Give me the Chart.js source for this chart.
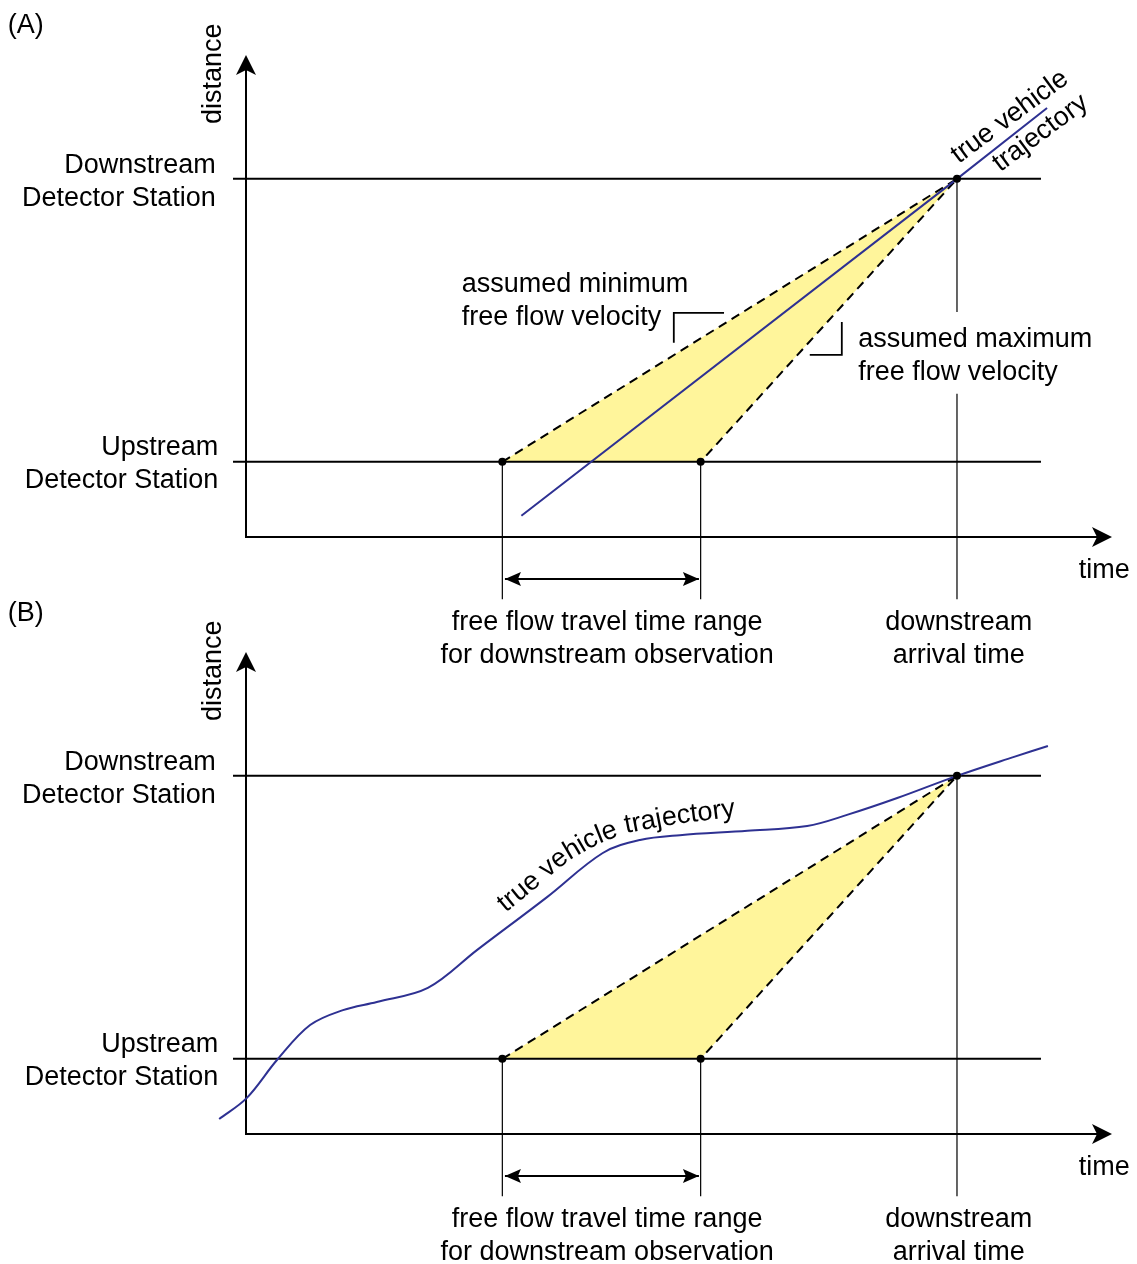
<!DOCTYPE html>
<html lang="en">
<head>
  <meta charset="UTF-8">
  <title>Free flow travel time range</title>
  <style>
    body { margin: 0; background: #fff; }
    #wrap { position: relative; width: 1137px; height: 1264px; }
    canvas { position: absolute; left: 0; }
    #panelA { top: 0; }
    #panelB { top: 597px; }
  </style>
</head>
<body>
  <div id="wrap">
    <canvas id="panelA" width="1137" height="667"></canvas>
    <canvas id="panelB" width="1137" height="667"></canvas>
  </div>

  <script src="https://cdn.jsdelivr.net/npm/chart.js"></script>
  <script>
    // both axes run 0..100 (time, distance), arbitrary units
    const upstreamDist = 15.6;
    const downstreamDist = 74.3;
    const entryTimes = [29.6, 52.5];      // min / max free flow entry time
    const arrivalTime = 82.1;
    const stationSpan = [-1.5, 91.8];
    const guideBottom = -12.9;
    const rangeArrowY = -8.7;
    const rangeArrowX = [29.9, 52.3];

    // (A) straight trajectory
    const trajA_t = [31.8, 82.1, 92.5];
    const trajA_d = [4.4, 74.3, 89.0];

    // (B) real trajectory
    const trajB_t = [-3.1, 0.1, 3.6, 7.4, 11.2, 15.1, 21.0, 26.7, 34.8, 41.2, 45.5, 50.1, 57.9, 64.8, 69.4, 75.2, 82.1, 88.6, 92.6];
    const trajB_d = [3.1, 7.5, 15.4, 22.6, 25.7, 27.4, 30.3, 38.2, 49.2, 58.3, 61.0, 62.0, 62.9, 63.9, 66.2, 69.7, 74.3, 78.2, 80.5];

    // leader brackets (A)
    const minBracket_t = [49.4, 49.4, 55.2];
    const minBracket_d = [40.3, 46.5, 46.5];
    const maxBracket_t = [65.1, 68.8, 68.8];
    const maxBracket_d = [37.8, 37.8, 44.6];
    const arrivalGap = [46.7, 29.7];   // arrival guide line is broken for the label in (A)

    // baseline the curved label follows in (B)
    const labelPathB_t = [30.0, 33.6, 37.0, 40.3, 43.8, 48.4, 56.5];
    const labelPathB_d = [45.9, 51.2, 56.4, 59.9, 62.4, 64.0, 65.9];

    const BLUE = '#2e3192';
    const YELLOW = '#fff59b';
    const FONT = '27px "Liberation Sans", Arial, sans-serif';
    const LINE_H = 33;
    const DY = 2;   // visual centring of text lines

    function line(ts, ds, opts) {
      return Object.assign({
        data: ts.map((t, i) => ({ x: t, y: ds[i] })),
        showLine: true,
        pointRadius: 0,
        borderColor: '#000',
        borderWidth: 2,
        fill: false,
        clip: false,
        order: 3
      }, opts);
    }

    function arrowHead(ctx, x, y, ang, len, half, notch) {
      const dx = Math.cos(ang), dy = Math.sin(ang);
      const px = -dy, py = dx;
      ctx.beginPath();
      ctx.moveTo(x, y);
      ctx.lineTo(x - len * dx + half * px, y - len * dy + half * py);
      ctx.lineTo(x - (len - notch) * dx, y - (len - notch) * dy);
      ctx.lineTo(x - len * dx - half * px, y - len * dy - half * py);
      ctx.closePath();
      ctx.fill();
    }

    function textLines(ctx, lines, x, y) {
      lines.forEach((s, i) => ctx.fillText(s, x, y + DY + i * LINE_H));
    }

    function textAlongPath(ctx, text, path) {
      const lens = [0];
      for (let i = 1; i < path.length; i++) {
        lens.push(lens[i - 1] + Math.hypot(path[i][0] - path[i - 1][0], path[i][1] - path[i - 1][1]));
      }
      function at(s) {
        let i = 1;
        while (i < path.length - 1 && lens[i] < s) i++;
        const f = (s - lens[i - 1]) / (lens[i] - lens[i - 1]);
        return [path[i - 1][0] + f * (path[i][0] - path[i - 1][0]), path[i - 1][1] + f * (path[i][1] - path[i - 1][1])];
      }
      let s = 0;
      for (const ch of text) {
        const w = ctx.measureText(ch).width;
        const p0 = at(s), p1 = at(s + w);
        ctx.save();
        ctx.translate(p0[0], p0[1]);
        ctx.rotate(Math.atan2(p1[1] - p0[1], p1[0] - p0[0]));
        ctx.fillText(ch, 0, 0);
        ctx.restore();
        s += w;
      }
    }

    function diagramPlugin(panel) {
      return {
        id: 'diagram',
        beforeDatasetsDraw(chart) {
          const { ctx, chartArea: a } = chart;
          ctx.save();
          ctx.strokeStyle = '#000';
          ctx.fillStyle = '#000';
          ctx.lineWidth = 2;
          ctx.beginPath();
          ctx.moveTo(a.left, a.top + 12);
          ctx.lineTo(a.left, a.bottom);
          ctx.lineTo(a.right - 12, a.bottom);
          ctx.stroke();
          arrowHead(ctx, a.left, a.top, -Math.PI / 2, 20, 10, 5);
          arrowHead(ctx, a.right, a.bottom, 0, 20, 10, 5);
          ctx.restore();
        },
        afterDatasetsDraw(chart) {
          const { ctx } = chart;
          const X = v => chart.scales.x.getPixelForValue(v);
          const Y = v => chart.scales.y.getPixelForValue(v);
          ctx.save();
          ctx.fillStyle = '#000';
          // double arrow heads
          const ay = Y(rangeArrowY);
          arrowHead(ctx, X(rangeArrowX[0]), ay, Math.PI, 16, 7, 3);
          arrowHead(ctx, X(rangeArrowX[1]), ay, 0, 16, 7, 3);

          ctx.font = FONT;
          ctx.textBaseline = 'middle';

          ctx.textAlign = 'left';
          textLines(ctx, [panel === 'A' ? '(A)' : '(B)'], X(-27.5), panel === 'A' ? Y(106.6) : Y(108.3));

          ctx.textAlign = 'right';
          textLines(ctx, ['Downstream', 'Detector Station'], X(-3.5), Y(77.4));
          textLines(ctx, ['Upstream', 'Detector Station'], X(-3.2), Y(18.9));

          ctx.textAlign = 'center';
          textLines(ctx, ['time'], X(99.1), Y(-6.6));
          textLines(ctx, ['free flow travel time range', 'for downstream observation'], X(41.7), Y(-17.4));
          textLines(ctx, ['downstream', 'arrival time'], X(82.3), Y(-17.4));

          ctx.save();
          ctx.translate(X(-3.7), Y(96.1));
          ctx.rotate(-Math.PI / 2);
          ctx.fillText('distance', 0, 0);
          ctx.restore();

          if (panel === 'A') {
            ctx.textAlign = 'left';
            textLines(ctx, ['assumed minimum', 'free flow velocity'], X(24.9), Y(52.7));
            textLines(ctx, ['assumed maximum', 'free flow velocity'], X(70.7), Y(41.3));
            ctx.textBaseline = 'alphabetic';
            const ang = -36.5 * Math.PI / 180;
            [['true vehicle', 82.3, 77.4], ['trajectory', 87.1, 75.7]].forEach(([s, t, d]) => {
              ctx.save();
              ctx.translate(X(t), Y(d));
              ctx.rotate(ang);
              ctx.fillText(s, 0, 0);
              ctx.restore();
            });
          } else {
            ctx.textAlign = 'left';
            ctx.textBaseline = 'alphabetic';
            const path = labelPathB_t.map((t, i) => [X(t), Y(labelPathB_d[i])]);
            textAlongPath(ctx, 'true vehicle trajectory', path);
          }
          ctx.restore();
        }
      };
    }

    function makeChart(id, panel) {
      const [e0, e1] = entryTimes;
      const datasets = [
        // dots at the detector observations
        line([e0, e1, arrivalTime], [upstreamDist, upstreamDist, downstreamDist],
          { showLine: false, pointRadius: 4, pointBackgroundColor: '#000', pointBorderWidth: 0, order: 0 }),
        // free flow bounds
        line([e0, arrivalTime, e1], [upstreamDist, downstreamDist, upstreamDist],
          { borderDash: [9, 6], borderWidth: 2, order: 2 }),
        line([e0, arrivalTime, e1, e0], [upstreamDist, downstreamDist, upstreamDist, upstreamDist],
          { fill: 'shape', backgroundColor: YELLOW, borderColor: 'rgba(0,0,0,0)', borderWidth: 1, order: 9 }),
        // detector stations
        line(stationSpan, [upstreamDist, upstreamDist], { order: 3 }),
        line(stationSpan, [downstreamDist, downstreamDist], { order: 3 }),
        // guide lines
        line([e0, e0], [upstreamDist, guideBottom], { borderWidth: 1.2 }),
        line([e1, e1], [upstreamDist, guideBottom], { borderWidth: 1.2 }),
        line(rangeArrowX, [rangeArrowY, rangeArrowY], { borderWidth: 2 })
      ];
      if (panel === 'A') {
        datasets.push(
          line([arrivalTime, arrivalTime], [downstreamDist, arrivalGap[0]], { borderWidth: 1.2 }),
          line([arrivalTime, arrivalTime], [arrivalGap[1], guideBottom], { borderWidth: 1.2 }),
          line(minBracket_t, minBracket_d, { borderWidth: 1.8, borderJoinStyle: 'miter' }),
          line(maxBracket_t, maxBracket_d, { borderWidth: 1.8, borderJoinStyle: 'miter' }),
          line(trajA_t, trajA_d, { borderColor: BLUE, borderWidth: 2, order: 1 })
        );
      } else {
        datasets.push(
          line([arrivalTime, arrivalTime], [downstreamDist, guideBottom], { borderWidth: 1.2 }),
          line(trajB_t, trajB_d, { borderColor: BLUE, borderWidth: 2, tension: 0.35, order: 1 })
        );
      }

      return new Chart(document.getElementById(id), {
        type: 'scatter',
        data: { datasets },
        options: {
          responsive: false,
          animation: false,
          events: [],
          layout: { padding: { left: 246, right: 25, top: 55, bottom: 130 } },
          scales: {
            x: { type: 'linear', min: 0, max: 100, display: false },
            y: { type: 'linear', min: 0, max: 100, display: false }
          },
          plugins: { legend: { display: false }, tooltip: { enabled: false } }
        },
        plugins: [diagramPlugin(panel)]
      });
    }

    makeChart('panelA', 'A');
    makeChart('panelB', 'B');
  </script>
</body>
</html>
